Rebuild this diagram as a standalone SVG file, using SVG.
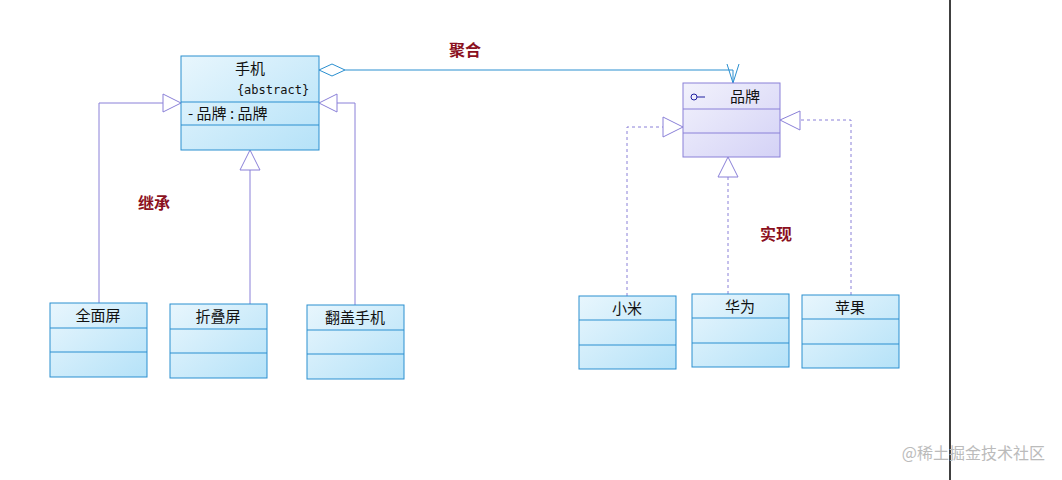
<svg xmlns="http://www.w3.org/2000/svg" width="1062" height="480" viewBox="0 0 1062 480">
<style>
text{font-family:"Noto Sans CJK SC","Liberation Sans",sans-serif;font-size:15px;fill:#111}
.cls rect{fill:url(#gb);stroke:#2a8fd0;stroke-width:1}
.cls line{stroke:#2a8fd0}
.if rect{fill:url(#gp);stroke:#8a80d8}
.if line{stroke:#8a80d8}
.lbl{fill:#8b1020;font-weight:bold;font-size:16px}
.inh{fill:none;stroke:#8a80d8;stroke-width:1}
.real{fill:none;stroke:#8a80d8;stroke-dasharray:3,3}
.tri{fill:#fff;stroke:#8a80d8}
</style>
<defs>
<linearGradient id="gb" x1="0" y1="0" x2="1" y2="1"><stop offset="0" stop-color="#e8f6fd"/><stop offset="1" stop-color="#b5e2f8"/></linearGradient>
<linearGradient id="gp" x1="0" y1="0" x2="1" y2="1"><stop offset="0" stop-color="#f2f2fc"/><stop offset="1" stop-color="#d4d2f6"/></linearGradient>
</defs>
<rect width="1062" height="480" fill="#fff"/>
<line x1="950" y1="0" x2="950" y2="480" stroke="#000" stroke-width="1.5"/>
<g id="connectors">
<path d="M345,70 H733 V83" fill="none" stroke="#2a8fd0"/>
<path d="M319,70 L332,64 L345,70 L332,76 Z" fill="#fff" stroke="#2a8fd0"/>
<path d="M727,64 L733,83 L739,64" fill="none" stroke="#2a8fd0"/>
<path class="inh" d="M99,303 V103 H163"/><path class="tri" d="M163,94 L181,103 L163,112 Z"/>
<path class="inh" d="M250,304 V170"/><path class="tri" d="M240,170 L250,150 L260,170 Z"/>
<path class="inh" d="M355,305 V103 H337"/><path class="tri" d="M337,94 L319,103 L337,112 Z"/>
<path class="real" d="M627,296 V127 H663"/><path class="tri" d="M663,117 L683,127 L663,137 Z"/>
<path class="real" d="M728,294 V177"/><path class="tri" d="M718,177 L728,157 L738,177 Z"/>
<path class="real" d="M851,295 V120 H800"/><path class="tri" d="M800,111 L780,120 L800,130 Z"/>
</g>
<g id="phone" class="cls"><rect x="181" y="56" width="138" height="94"/><line x1="181" y1="102" x2="319" y2="102"/><line x1="181" y1="125" x2="319" y2="125"/>
<text x="250" y="74" text-anchor="middle">手机</text><text x="273" y="94" text-anchor="middle" style="font-family:'DejaVu Sans Mono',monospace;font-size:12px">{abstract}</text>
<text x="188" y="119">-  品牌  : 品牌</text></g>
<g id="brand" class="if"><rect x="683" y="83" width="97" height="74"/><line x1="683" y1="109" x2="780" y2="109"/><line x1="683" y1="133" x2="780" y2="133"/>
<circle cx="694" cy="97" r="3" fill="none" stroke="#2020a0"/><line x1="697" y1="97" x2="705" y2="97" style="stroke:#2020a0"/>
<text x="745" y="102" text-anchor="middle">品牌</text></g>
<g id="full" class="cls"><rect x="50" y="303" width="97" height="74"/><line x1="50" y1="328" x2="147" y2="328"/><line x1="50" y1="352" x2="147" y2="352"/><text x="98" y="321" text-anchor="middle">全面屏</text></g>
<g id="fold" class="cls"><rect x="170" y="304" width="97" height="74"/><line x1="170" y1="329" x2="267" y2="329"/><line x1="170" y1="353" x2="267" y2="353"/><text x="218" y="322" text-anchor="middle">折叠屏</text></g>
<g id="flip" class="cls"><rect x="307" y="305" width="97" height="74"/><line x1="307" y1="330" x2="404" y2="330"/><line x1="307" y1="354" x2="404" y2="354"/><text x="355" y="323" text-anchor="middle">翻盖手机</text></g>
<g id="xiaomi" class="cls"><rect x="579" y="296" width="97" height="73"/><line x1="579" y1="320" x2="676" y2="320"/><line x1="579" y1="345" x2="676" y2="345"/><text x="627" y="314" text-anchor="middle">小米</text></g>
<g id="huawei" class="cls"><rect x="692" y="294" width="97" height="73"/><line x1="692" y1="318" x2="789" y2="318"/><line x1="692" y1="343" x2="789" y2="343"/><text x="740" y="312" text-anchor="middle">华为</text></g>
<g id="apple" class="cls"><rect x="802" y="295" width="97" height="73"/><line x1="802" y1="319" x2="899" y2="319"/><line x1="802" y1="344" x2="899" y2="344"/><text x="850" y="313" text-anchor="middle">苹果</text></g>
<text class="lbl" x="465" y="56" text-anchor="middle">聚合</text>
<text class="lbl" x="154" y="209" text-anchor="middle">继承</text>
<text class="lbl" x="776" y="240" text-anchor="middle">实现</text>
<text x="1045" y="459" text-anchor="end" style="fill:#bbb;font-size:16px">@稀土掘金技术社区</text>
</svg>
